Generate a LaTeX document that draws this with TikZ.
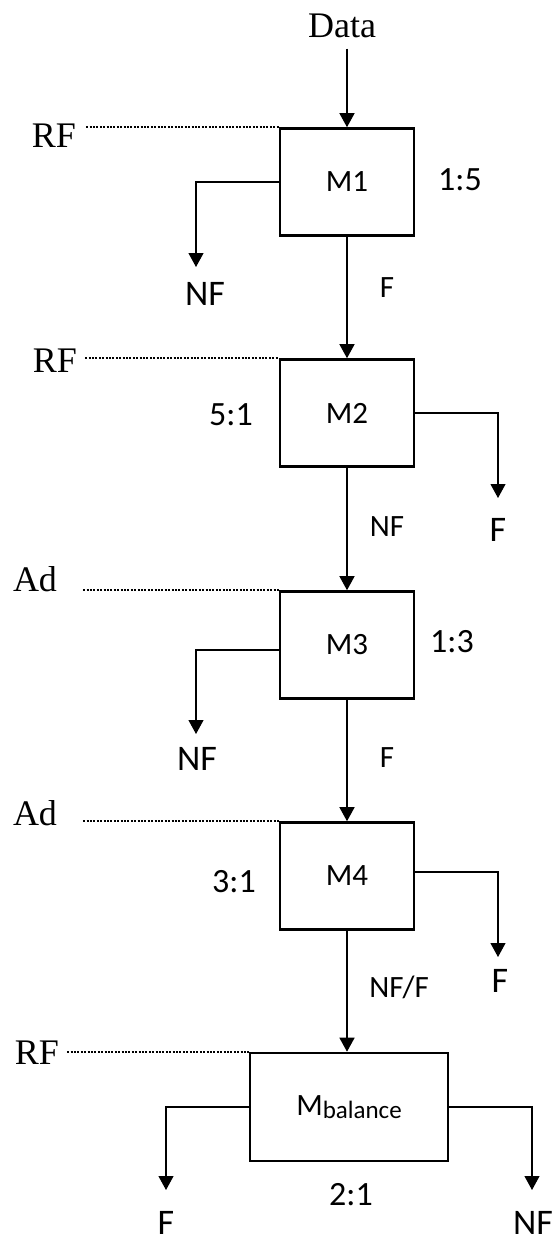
\documentclass[tikz,border=0pt]{standalone}
\usepackage{fontspec}
\setmainfont{Liberation Serif}
\newfontfamily\calibri{Carlito}
\usetikzlibrary{arrows.meta}

\begin{document}
\begin{tikzpicture}[x=1pt, y=-1pt,
    every node/.style={inner sep=0pt},
    module/.style={draw, line width=2.6pt, minimum width=134pt, minimum height=107pt,
                   font=\calibri\fontsize{31}{31}\selectfont},
    ratio/.style={font=\calibri\fontsize{34}{34}\selectfont},
    result/.style={font=\calibri\fontsize{36}{36}\selectfont},
    tag/.style={font=\calibri\fontsize{31}{31}\selectfont},
    src/.style={font=\fontsize{36}{36}\selectfont},
    flow/.style={line width=1.4pt, -{Triangle[length=14pt,width=15pt]}},
    branch/.style={line width=1.1pt, -{Triangle[length=14pt,width=15pt]}},
    feed/.style={line width=2.2pt, dash pattern=on 2pt off 1.4pt}]
    \useasboundingbox (0,0) rectangle (557,1242);

    % classifier stages
    \foreach \i/\y in {1/182,2/413,3/645,4/876} {
        \node[module] (M\i) at (347,\y) {M\i};
    }
    \node[module, minimum width=198pt, minimum height=108pt] (Mb) at (349,1107)
        {M\raisebox{-3pt}{\fontsize{25}{25}\selectfont balance}};

    % input and main line
    \node[src, anchor=base] (data) at (342,37) {Data};
    \draw[flow, shorten <=11pt] (data.south -| M1.north) -- (M1.north);
    \foreach \a/\b in {M1/M2,M2/M3,M3/M4} {
        \draw[flow] (\a) -- (\b);
    }
    \draw[flow] (M4) -- (M4 |- Mb.north);

    % feature sets fed to each stage
    \foreach \t/\x/\y/\m/\g in {RF/54/136/M1/10, RF/55/361/M2/8, Ad/35/579/M3/26,
                                Ad/35/813/M4/26, RF/37/1053/Mb/8} {
        \node[src] (f\m) at (\x,\y) {\t};
        \draw[feed, shorten <=\g pt] (f\m.east |- \m.north west) -- (\m.north west);
    }

    % class ratios
    \foreach \t/\x/\y [count=\k] in {1:5/460/180, 5:1/231/415, 1:3/452/642,
                                     3:1/234/882, 2:1/351/1195} {
        \node[ratio] (r\k) at (\x,\y) {\t};
    }

    % labels on the main line
    \foreach \t/\x/\y [count=\k] in {F/387/288, NF/387/527, F/387/758, NF\slash F/399/987} {
        \node[tag] (e\k) at (\x,\y) {\t};
    }

    % side outputs
    \coordinate (t1) at (196,267);
    \coordinate (t2) at (498,498);
    \coordinate (t3) at (196,734);
    \coordinate (t4) at (498,957);
    \coordinate (t5) at (166,1190);
    \coordinate (t6) at (532,1190);
    \draw[branch] (M1.west) -| (t1);
    \draw[branch] (M2.east) -| (t2);
    \draw[branch] ([yshift=-5pt]M3.west) -| (t3);
    \draw[branch] ([yshift=4pt]M4.east) -| (t4);
    \draw[branch] (Mb.west) -| (t5);
    \draw[branch] (Mb.east) -| (t6);

    \foreach \t/\x/\y [count=\k] in {NF/205/294, F/498/530, NF/197/759,
                                     F/500/981, F/166/1223, NF/533/1223} {
        \node[result] (o\k) at (\x,\y) {\t};
    }
\end{tikzpicture}
\end{document}
